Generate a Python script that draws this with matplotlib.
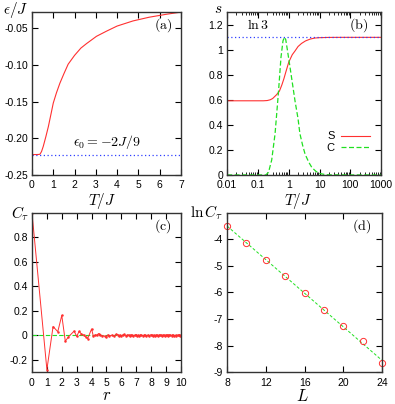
import numpy as np
import matplotlib
matplotlib.use('Agg')
from matplotlib import pyplot as plt

plt.rcParams['font.family'] = ['Liberation Sans', 'DejaVu Sans']
plt.rcParams['mathtext.fontset'] = 'cm'

# (a) energy vs temperature
T_a = [0, 0.1, 0.2, 0.3, 0.375, 0.45, 0.53, 0.65, 0.77, 0.9, 1.0, 1.15, 1.31,
       1.5, 1.7, 2.0, 2.3, 2.56, 3.03, 3.5, 4.0, 4.75, 5.5, 6.3, 7.0]
eps_a = [-0.2222, -0.2222, -0.2222, -0.2221, -0.2218, -0.218, -0.211, -0.198,
         -0.184, -0.166, -0.152, -0.138, -0.125, -0.112, -0.099, -0.087, -0.077,
         -0.071, -0.061, -0.054, -0.047, -0.040, -0.035, -0.031, -0.028]
eps0 = -2.0 / 9

# (b) entropy and specific heat
T_S = [0.01, 0.05, 0.1, 0.15, 0.2, 0.25, 0.3, 0.4, 0.5, 0.6, 0.7, 0.8, 1.0, 1.3,
       1.6, 2.0, 2.6, 3.5, 5, 7, 10, 20, 50, 100, 1000]
S_b = [0.592, 0.592, 0.592, 0.592, 0.594, 0.60, 0.61, 0.64, 0.67, 0.72, 0.77,
       0.82, 0.90, 0.96, 0.99, 1.025, 1.05, 1.07, 1.085, 1.093, 1.096, 1.098,
       1.0986, 1.0986, 1.0986]
T_C = [0.01, 0.1, 0.18, 0.22, 0.28, 0.36, 0.46, 0.56, 0.65, 0.72, 0.8, 0.9, 1.1,
       1.3, 1.6, 2.0, 2.3, 2.8, 3.4, 4.5, 5.6, 7.5, 10, 15, 20, 100, 1000]
C_b = [0, 0, 0.0, 0.02, 0.12, 0.33, 0.65, 0.94, 1.07, 1.10, 1.08, 1.0, 0.86,
       0.74, 0.59, 0.45, 0.33, 0.24, 0.165, 0.10, 0.06, 0.03, 0.012, 0.003,
       0.001, 0, 0]
ln3 = np.log(3)

# (c) correlation vs distance, r^2 = n on the lattice
n_sq = [0, 1, 2, 3, 4, 5, 6, 8, 9, 10, 11, 12, 13, 14, 16, 17, 18, 19, 20, 21,
        22, 24, 25, 26, 27, 29, 30, 32, 33, 34, 35, 36, 37, 38, 40, 41, 42, 43,
        44, 45, 46, 48, 49, 50, 51, 52, 53, 54, 56, 57, 58, 59, 61, 62, 64, 65,
        66, 67, 68, 69, 70, 72, 73, 74, 75, 76, 77, 78, 80, 81, 82, 83, 84, 85,
        86, 88, 89, 90, 91, 93, 94, 96, 97, 98, 99, 100]
C_r = [1.0, -0.28, 0.072, 0.03, 0.163, -0.048, -0.012, 0.035, -0.008, 0.032,
       0.012, 0.004, -0.012, -0.026, 0.052, -0.008, 0.004, 0.002, 0.015, 0.006,
       -0.004, -0.006, -0.014, 0.004, -0.004, 0.002, -0.006, 0.009, 0.006,
       -0.003, 0.002, -0.008, 0.003, 0.008, -0.004, 0.002, 0.004, -0.003, 0.005,
       0.001, -0.004, 0.003, 0.006, -0.002, 0.001, -0.004, 0.003, 0.002, -0.003,
       0.004, 0.001, -0.002, 0.003, -0.003, 0.006, 0.001, -0.002, 0.002, -0.004,
       0.001, 0.002, -0.002, 0.003, -0.001, 0.002, -0.003, 0.002, 0.001, -0.002,
       0.004, -0.001, 0.002, -0.003, 0.001, 0.002, -0.002, 0.001, 0.003, -0.002,
       0.001, -0.002, 0.002, -0.001, 0.001, -0.002, 0.001]

# (d) ln C_tau vs system size
L_d = [8, 10, 12, 14, 16, 18, 20, 22, 24]
lnC_d = [-3.51, -4.13, -4.79, -5.37, -6.02, -6.67, -7.25, -7.84, -8.66]

red = '#ff3030'
green = '#20e020'
blue = '#3040ff'
tickfs = 7.5

fig = plt.figure(figsize=(3.95, 4.04), dpi=100)
ax_a = fig.add_axes([0.081, 0.567, 0.377, 0.403])
ax_b = fig.add_axes([0.575, 0.567, 0.390, 0.403])
ax_c = fig.add_axes([0.081, 0.079, 0.377, 0.394])
ax_d = fig.add_axes([0.575, 0.079, 0.392, 0.394])

for ax in (ax_a, ax_b, ax_c, ax_d):
    ax.tick_params(direction='in', top=True, right=True, labelsize=tickfs,
                   length=4, width=0.8, pad=3)
    ax.tick_params(axis='x', pad=4)
    ax.tick_params(which='minor', direction='in', top=True, right=True,
                   length=2, width=0.6)
    for sp in ax.spines.values():
        sp.set_linewidth(1.0)
        sp.set_color('#333333')

# (a)
ax_a.plot(T_a, eps_a, color=red, lw=0.8)
ax_a.axhline(eps0, color=blue, lw=0.9, ls=(0, (1, 2)))
ax_a.set_xlim(0, 7)
ax_a.set_ylim(-0.25, -0.028)
ax_a.set_xticks(range(8))
ax_a.set_yticks([-0.25, -0.2, -0.15, -0.1, -0.05])
ax_a.set_yticklabels(['-0.25', '-0.20', '-0.15', '-0.10', '-0.05'])
ax_a.text(3.5, -0.205, r'$\epsilon_0=-2J/9$', fontsize=10, ha='center', va='center')
ax_a.text(0.88, 0.92, r'$\mathrm{(a)}$', transform=ax_a.transAxes, fontsize=10,
          ha='center', va='center')

# (b)
ax_b.plot(T_S, S_b, color=red, lw=0.8, label='S')
ax_b.plot(T_C, C_b, color=green, lw=0.9, ls=(0, (4, 2)), label='C')
ax_b.axhline(ln3, color=blue, lw=0.9, ls=(0, (1, 2)))
ax_b.set_xscale('log')
ax_b.set_xlim(0.01, 1000)
ax_b.set_ylim(0, 1.3)
ax_b.set_xticks([0.01, 0.1, 1, 10, 100, 1000])
ax_b.set_xticklabels(['0.01', '0.1', '1', '10', '100', '1000'])
ax_b.set_yticks([0, 0.2, 0.4, 0.6, 0.8, 1.0, 1.2])
ax_b.set_yticklabels(['0', '0.2', '0.4', '0.6', '0.8', '1', '1.2'])
ax_b.text(0.2, 0.92, r'$\ln 3$', transform=ax_b.transAxes, fontsize=10,
          ha='center', va='center')
ax_b.text(0.85, 0.92, r'$\mathrm{(b)}$', transform=ax_b.transAxes, fontsize=10,
          ha='center', va='center')
ax_b.legend(loc='lower right', bbox_to_anchor=(0.98, 0.09), frameon=False,
            markerfirst=False, fontsize=8, handlelength=2.6, labelspacing=0.1,
            handletextpad=0.6, borderpad=0.2)

# (c)
r_c = np.sqrt(n_sq)
ax_c.axhline(0, color=green, lw=0.8, ls=(0, (4, 2)))
ax_c.plot(r_c, C_r, color=red, lw=0.7, marker='o', ms=1.8, mew=0)
ax_c.set_xlim(0, 10)
ax_c.set_ylim(-0.3, 1.0)
ax_c.set_xticks(range(11))
ax_c.set_yticks([-0.2, 0, 0.2, 0.4, 0.6, 0.8])
ax_c.set_yticklabels(['-0.2', '0', '0.2', '0.4', '0.6', '0.8'])
ax_c.text(0.88, 0.92, r'$\mathrm{(c)}$', transform=ax_c.transAxes, fontsize=10,
          ha='center', va='center')

# (d)
slope, icpt = np.polyfit(L_d, lnC_d, 1)
ax_d.plot([8, 24], [slope * 8 + icpt, slope * 24 + icpt], color=green, lw=0.7,
          ls=(0, (3, 2)))
ax_d.plot(L_d, lnC_d, ls='none', marker='o', ms=4.5, mfc='none', mec=red,
          mew=0.7, clip_on=False)
ax_d.set_xlim(8, 24)
ax_d.set_ylim(-9, -3)
ax_d.set_xticks([8, 12, 16, 20, 24])
ax_d.set_yticks([-9, -8, -7, -6, -5, -4])
ax_d.set_yticklabels(['-9', '-8', '-7', '-6', '-5', '-4'])
ax_d.text(0.87, 0.92, r'$\mathrm{(d)}$', transform=ax_d.transAxes, fontsize=10,
          ha='center', va='center')

# axis labels placed gnuplot style
fig.text(16 / 395, 1 - 10 / 404, r'$\epsilon/J$', fontsize=11, ha='center', va='center')
fig.text(102 / 395, 1 - 201 / 404, r'$T/J$', fontsize=11, ha='center', va='center')
fig.text(218 / 395, 1 - 9 / 404, r'$s$', fontsize=11, ha='center', va='center')
fig.text(298 / 395, 1 - 201 / 404, r'$T/J$', fontsize=11, ha='center', va='center')
fig.text(20 / 395, 1 - 214 / 404, r'$C_\tau$', fontsize=11, ha='center', va='center')
fig.text(107 / 395, 1 - 396 / 404, r'$r$', fontsize=12, ha='center', va='center')
fig.text(207 / 395, 1 - 213 / 404, r'$\ln C_\tau$', fontsize=11, ha='center', va='center')
fig.text(302 / 395, 1 - 396 / 404, r'$L$', fontsize=12, ha='center', va='center')

fig.savefig('out.png', dpi=100)
